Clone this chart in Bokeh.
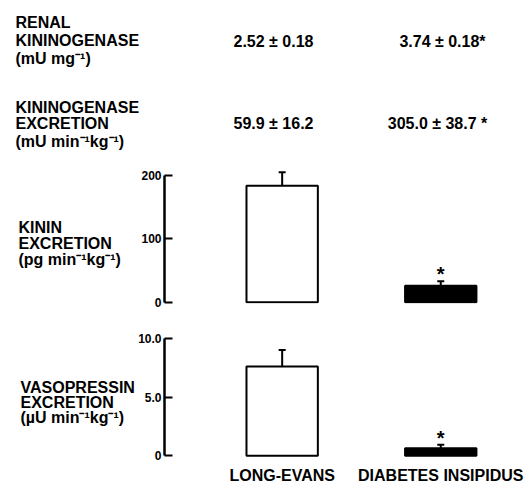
from bokeh.plotting import figure
from bokeh.models import Range1d, FixedTicker, ColumnDataSource, Whisker, TeeHead
from bokeh.layouts import column, row
from bokeh.embed import file_html
from bokeh.resources import INLINE
from bokeh.core.properties import value

# ---------------- data ----------------
groups = ["LONG-EVANS", "DIABETES INSIPIDUS"]
renal_label = ["RENAL", "KININOGENASE", "(mU mg\u207b\u00b9)"]
renal_values = ["2.52 \u00b1 0.18", "3.74 \u00b1 0.18*"]
excr_label = ["KININOGENASE", "EXCRETION", "(mU min\u207b\u00b9kg\u207b\u00b9)"]
excr_values = ["59.9 \u00b1 16.2", "305.0 \u00b1 38.7 *"]

kinin_label = ["KININ", "EXCRETION", "(pg min\u207b\u00b9kg\u207b\u00b9)"]
kinin_mean = [184, 26]
kinin_sem = [21, 7]
kinin_ticks = [0, 100, 200]
kinin_tick_labels = ["0", "100", "200"]

vaso_label = ["VASOPRESSIN", "EXCRETION", "(\u00b5U min\u207b\u00b9kg\u207b\u00b9)"]
vaso_mean = [7.6, 0.65]
vaso_sem = [1.4, 0.3]
vaso_ticks = [0, 5, 10]
vaso_tick_labels = ["0", "5.0", "10.0"]

significant = [False, True]
bar_fill = ["white", "black"]

FONT = "Liberation Sans"
W = 527
H = 486


def blank(width, height, xr, yr):
    f = figure(width=width, height=height, x_range=xr, y_range=yr,
               toolbar_location=None, output_backend="svg", min_border=0)
    f.axis.visible = False
    f.grid.visible = False
    f.outline_line_color = None
    return f


def put_text(f, x, ys, texts, align="left", size="16px"):
    f.text(x=[x] * len(texts), y=ys, text=texts, text_font=value(FONT),
           text_font_style="bold", text_font_size=size, text_color="black",
           text_align=align, text_baseline="middle")


# ---------------- top table ----------------
TOP_H = 160
top = blank(W, TOP_H, Range1d(0, W), Range1d(TOP_H, 0))
put_text(top, 15, [22, 40, 58], renal_label)
put_text(top, 15, [107, 123, 141], excr_label)
put_text(top, 273, [41], [renal_values[0]], align="center")
put_text(top, 442, [41], [renal_values[1]], align="center")
put_text(top, 273, [123], [excr_values[0]], align="center")
put_text(top, 437, [123], [excr_values[1]], align="center")

# ---------------- left labels ----------------
LW = 135
left = blank(LW, H - TOP_H, Range1d(0, LW), Range1d(H - TOP_H, 0))
put_text(left, 18, [67, 83, 99], kinin_label)
put_text(left, 20, [227, 242, 257], vaso_label)

# ---------------- bar panels ----------------
xr = Range1d(-0.742, 1.547)


def panel(height, yr, mean, sem, ticks, tick_labels, border_top, border_bottom, show_x):
    f = figure(width=W - LW, height=height, x_range=xr, y_range=yr,
               toolbar_location=None, output_backend="svg",
               min_border_left=163 - LW, min_border_right=0,
               min_border_top=border_top, min_border_bottom=border_bottom)
    f.grid.visible = False
    f.outline_line_color = None
    src = ColumnDataSource(dict(
        x=list(range(len(groups))), mean=mean,
        upper=[m + s for m, s in zip(mean, sem)], fill=bar_fill,
        star=["*" if s else "" for s in significant]))
    f.vbar(x="x", top="mean", bottom=0, width=0.45, fill_color="fill",
           line_color="black", line_width=2, source=src)
    f.add_layout(Whisker(base="x", lower="mean", upper="upper", source=src,
                         dimension="height", line_width=2, line_color="black",
                         upper_head=TeeHead(size=7, line_width=2, line_color="black"),
                         lower_head=None))
    f.text(x="x", y="upper", text="star", source=src, text_font=value(FONT),
           text_font_style="bold", text_font_size="20px", text_align="center",
           text_baseline="middle", y_offset=-7)
    ya = f.yaxis[0]
    ya.ticker = FixedTicker(ticks=ticks)
    ya.major_label_overrides = dict(zip(ticks, tick_labels))
    ya.bounds = (ticks[0], ticks[-1])
    ya.major_tick_in = 8
    ya.major_tick_out = 0
    ya.minor_tick_line_color = None
    ya.axis_line_width = 2.5
    ya.major_tick_line_width = 2
    ya.major_label_standoff = 3
    ya.major_label_text_font = FONT
    ya.major_label_text_font_style = "bold"
    ya.major_label_text_font_size = "12px"
    ya.major_label_text_color = "black"
    xa = f.xaxis[0]
    if show_x:
        xa.ticker = FixedTicker(ticks=list(range(len(groups))))
        xa.major_label_overrides = {i: g for i, g in enumerate(groups)}
        xa.axis_line_color = None
        xa.major_tick_line_color = None
        xa.major_tick_in = 0
        xa.major_tick_out = 0
        xa.minor_tick_line_color = None
        xa.major_label_standoff = 9
        xa.major_label_text_font = FONT
        xa.major_label_text_font_style = "bold"
        xa.major_label_text_font_size = "16px"
        xa.major_label_text_color = "black"
    else:
        xa.visible = False
    return f


kin = panel(155, Range1d(-2.05, 215.8), kinin_mean, kinin_sem,
            kinin_ticks, kinin_tick_labels, 5, 12, False)
vas = panel(H - TOP_H - 155, Range1d(-0.14, 10.66), vaso_mean, vaso_sem,
            vaso_ticks, vaso_tick_labels, 15, 26, True)

layout = column(top, row(left, column(kin, vas, spacing=0), spacing=0), spacing=0)

open("out.html", "w").write(file_html(layout, INLINE))
